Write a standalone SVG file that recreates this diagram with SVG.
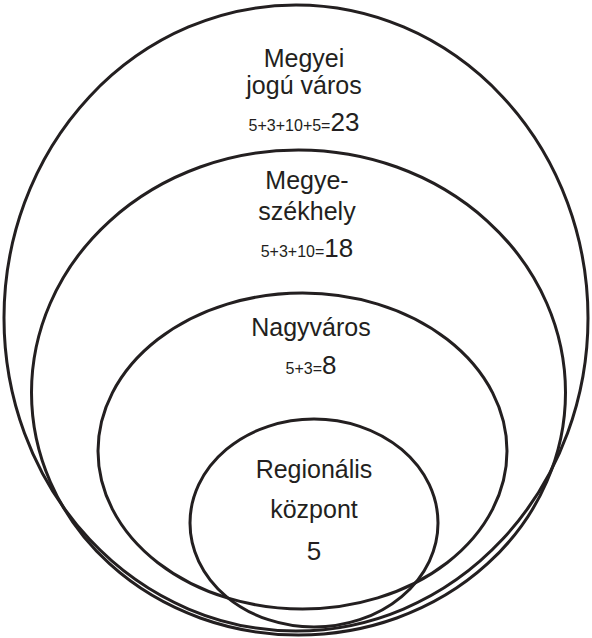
<svg xmlns="http://www.w3.org/2000/svg" width="592" height="638" viewBox="0 0 592 638">
<style>
.ring{fill:none;stroke:#231f20;stroke-width:3}
.lbl{font-family:"Liberation Sans",Arial,sans-serif;font-size:25px;fill:#231f20;text-anchor:middle}
.num{font-size:26px}
.sm{font-size:16px}
</style>
<rect width="592" height="638" fill="#fff"/>
<g id="megyei-jogu-varos">
<ellipse class="ring" cx="296" cy="318" rx="292" ry="313"/>
<text class="lbl" x="304" y="67">Megyei</text>
<text class="lbl" x="304" y="94">jogú város</text>
<text class="lbl num" x="304" y="131"><tspan class="sm">5+3+10+5=</tspan>23</text>
</g>
<g id="megyeszekhely">
<ellipse class="ring" cx="298.5" cy="392.5" rx="267" ry="242.5"/>
<text class="lbl" x="307" y="189">Megye-</text>
<text class="lbl" x="307" y="220">székhely</text>
<text class="lbl num" x="307" y="257"><tspan class="sm">5+3+10=</tspan>18</text>
</g>
<g id="nagyvaros">
<ellipse class="ring" cx="302.5" cy="451" rx="204.5" ry="158"/>
<text class="lbl" x="311" y="336">Nagyváros</text>
<text class="lbl num" x="311" y="374"><tspan class="sm">5+3=</tspan>8</text>
</g>
<g id="regionalis-kozpont">
<ellipse class="ring" cx="314" cy="523" rx="124" ry="104"/>
<text class="lbl" x="314" y="478">Regionális</text>
<text class="lbl" x="314" y="518">központ</text>
<text class="lbl num" x="314" y="560">5</text>
</g>
<g id="connectors"/>
</svg>
